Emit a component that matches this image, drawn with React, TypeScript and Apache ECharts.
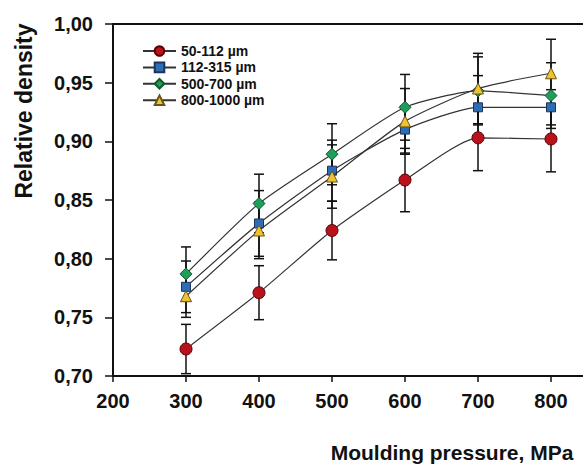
import React, { useEffect, useRef } from "react";
import * as echarts from "echarts";

const pressure = [300, 400, 500, 600, 700, 800];
const seriesNames = ["50-112 µm", "112-315 µm", "500-700 µm", "800-1000 µm"];
const s1 = [0.723, 0.771, 0.824, 0.867, 0.903, 0.902];
const e1 = [0.021, 0.023, 0.025, 0.027, 0.028, 0.028];
const s2 = [0.776, 0.830, 0.875, 0.910, 0.929, 0.929];
const e2 = [0.022, 0.028, 0.026, 0.020, 0.027, 0.015];
const s3 = [0.787, 0.847, 0.889, 0.929, 0.943, 0.939];
const e3 = [0.023, 0.025, 0.026, 0.028, 0.029, 0.028];
const s4 = [0.768, 0.824, 0.870, 0.917, 0.945, 0.958];
const e4 = [0.018, 0.024, 0.027, 0.028, 0.030, 0.029];
const xTicks = { min: 200, max: 900, interval: 100 };
const yTicks = { min: 0.7, max: 1.0, interval: 0.05 };

const values = [s1, s2, s3, s4];
const errors = [e1, e2, e3, e4];
const symbols = ["circle", "rect", "diamond", "triangle"];
const symbolSizes = [12, 9, 12, 11];
const fills = ["#b8121c", "#2e6db4", "#1f9e5a", "#f0c232"];
const borders = ["#5a0000", "#1a3559", "#0c5a2c", "#6a5514"];

const FONT = '"Liberation Sans", Arial, sans-serif';

export default function App() {
  const ref = useRef<HTMLDivElement>(null);
  useEffect(() => {
    if (!ref.current) return;
    const chart = echarts.init(ref.current, null, { renderer: "svg" });
    const lineSeries = values.map((vals, i) => ({
      type: "line",
      name: seriesNames[i],
      data: pressure.map((p, j) => [p, vals[j]]),
      smooth: 0.2,
      symbol: symbols[i],
      symbolSize: symbolSizes[i],
      z: 3 + i,
      lineStyle: { color: "#333", width: 1.2 },
      itemStyle: { color: fills[i], borderColor: borders[i], borderWidth: 1 },
    }));
    const errSeries = values.map((vals, i) => ({
      type: "custom",
      name: "err" + i,
      z: 2,
      data: pressure.map((p, j) => [p, vals[j] - errors[i][j], vals[j] + errors[i][j]]),
      encode: { x: 0, y: [1, 2] },
      renderItem: (params: any, api: any) => {
        const x = api.value(0);
        const pHi = api.coord([x, api.value(2)]);
        const pLo = api.coord([x, api.value(1)]);
        const w = 5;
        const style = { stroke: "#111", lineWidth: 1.5 };
        return {
          type: "group",
          children: [
            { type: "line", shape: { x1: pHi[0], y1: pHi[1], x2: pLo[0], y2: pLo[1] }, style },
            { type: "line", shape: { x1: pHi[0] - w, y1: pHi[1], x2: pHi[0] + w, y2: pHi[1] }, style },
            { type: "line", shape: { x1: pLo[0] - w, y1: pLo[1], x2: pLo[0] + w, y2: pLo[1] }, style },
          ],
        };
      },
    }));
    chart.setOption({
      animation: false,
      backgroundColor: "#fff",
      grid: {
        left: 113,
        top: 24,
        width: 511,
        bottom: 88,
        outerBoundsMode: "none",
        containLabel: false,
        show: true,
        borderColor: "#111",
        borderWidth: 2,
      },
      legend: {
        data: seriesNames,
        orient: "vertical",
        left: 137,
        top: 39,
        itemWidth: 33,
        itemHeight: 12,
        itemGap: 2.4,
        textStyle: { fontSize: 14, fontWeight: "bold", fontFamily: FONT, color: "#111" },
      },
      xAxis: {
        type: "value",
        min: xTicks.min,
        max: xTicks.max,
        interval: xTicks.interval,
        axisLine: { show: true, onZero: false, lineStyle: { color: "#111", width: 2 } },
        axisTick: { show: true, length: 6, lineStyle: { color: "#111", width: 1.5 } },
        axisLabel: {
          margin: 15,
          fontSize: 20,
          fontWeight: "bold",
          fontFamily: FONT,
          color: "#111",
          showMaxLabel: false,
          formatter: (v: number) => (v >= xTicks.max ? "" : String(v)),
        },
        splitLine: { show: false },
      },
      yAxis: {
        type: "value",
        min: yTicks.min,
        max: yTicks.max,
        interval: yTicks.interval,
        axisLine: { show: true, onZero: false, lineStyle: { color: "#111", width: 2 } },
        axisTick: { show: true, length: 8, lineStyle: { color: "#111", width: 1.5 } },
        axisLabel: {
          margin: 20,
          fontSize: 20,
          fontWeight: "bold",
          fontFamily: FONT,
          color: "#111",
          formatter: (v: number) => v.toFixed(2).replace(".", ","),
        },
        splitLine: { show: false },
      },
      graphic: [
        {
          type: "text",
          x: 24,
          y: 111,
          rotation: Math.PI / 2,
          style: {
            text: "Relative density",
            font: `bold 23px ${FONT}`,
            fill: "#111",
            align: "center",
            verticalAlign: "middle",
            textAlign: "center",
            textVerticalAlign: "middle",
          },
        },
        {
          type: "text",
          x: 452,
          y: 452,
          style: {
            text: "Moulding pressure, MPa",
            font: `bold 21px ${FONT}`,
            fill: "#111",
            align: "center",
            verticalAlign: "middle",
            textAlign: "center",
            textVerticalAlign: "middle",
          },
        },
      ],
      series: [...errSeries, ...lineSeries],
    });
    return () => chart.dispose();
  }, []);
  return (
    <div
      ref={ref}
      style={{ position: "fixed", left: 0, top: 0, width: 583, height: 464 }}
    />
  );
}
